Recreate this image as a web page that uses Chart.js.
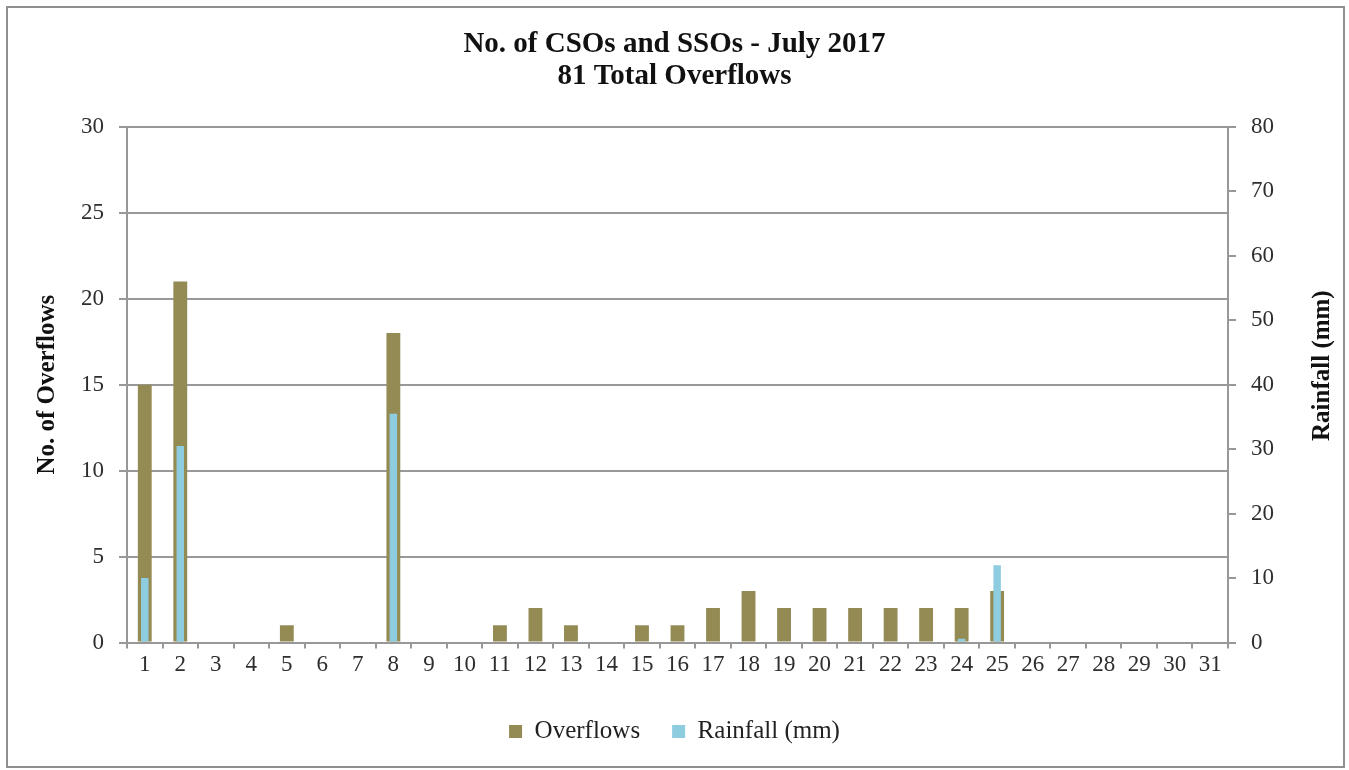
<!DOCTYPE html>
<html>
<head>
<meta charset="utf-8">
<title>No. of CSOs and SSOs - July 2017</title>
<script src="https://cdn.jsdelivr.net/npm/chart.js@4.4.1/dist/chart.umd.min.js"></script>
<style>
  html, body { margin: 0; padding: 0; background: #fff; }
  #wrap { position: relative; width: 1349px; height: 770px; }
</style>
</head>
<body>
<div id="wrap"><canvas id="c" width="1349" height="770"></canvas></div>
<script>
// Days of July 2017
const days = ['1','2','3','4','5','6','7','8','9','10','11','12','13','14','15','16',
              '17','18','19','20','21','22','23','24','25','26','27','28','29','30','31'];

// Daily number of overflow events (CSOs + SSOs)
const overflows = [15, 21, 0, 0, 1, 0, 0, 18, 0, 0, 1, 2, 1, 0, 1, 1,
                   2, 3, 2, 2, 2, 2, 2, 2, 3, 0, 0, 0, 0, 0, 0];

// Daily rainfall, mm
const rainfall = [10, 30.5, 0, 0, 0, 0, 0, 35.5, 0, 0, 0, 0, 0, 0, 0, 0,
                  0, 0, 0, 0, 0, 0, 0, 0.6, 12, 0, 0, 0, 0, 0, 0];

const titleLines = ['No. of CSOs and SSOs - July 2017', '81 Total Overflows'];
const leftAxisTitle = 'No. of Overflows';
const rightAxisTitle = 'Rainfall (mm)';

const SERIF = '"Liberation Serif", "Times New Roman", Times, serif';
const GRID = '#989898';

// White background and the grey frame around the whole chart
const framePlugin = {
  id: 'frame',
  beforeDraw(chart) {
    const { ctx, width, height } = chart;
    ctx.save();
    ctx.fillStyle = '#fff';
    ctx.fillRect(0, 0, width, height);
    ctx.strokeStyle = '#8f8f8f';
    ctx.lineWidth = 2;
    ctx.strokeRect(7, 7, width - 12, height - 10);
    ctx.restore();
  }
};

// Secondary axis title, reading bottom to top
const rightTitlePlugin = {
  id: 'rightTitle',
  afterDraw(chart) {
    const { ctx, chartArea } = chart;
    const s = chart.scales.y1;
    ctx.save();
    ctx.translate(s.right - 6, (chartArea.top + chartArea.bottom) / 2 - 19);
    ctx.rotate(-Math.PI / 2);
    ctx.font = 'bold 25px ' + SERIF;
    ctx.fillStyle = '#111';
    ctx.textAlign = 'center';
    ctx.textBaseline = 'middle';
    ctx.fillText(rightAxisTitle, 0, 0);
    ctx.restore();
  }
};

new Chart(document.getElementById('c'), {
  type: 'bar',
  data: {
    labels: days,
    datasets: [
      {
        label: 'Overflows',
        data: overflows,
        yAxisID: 'y',
        backgroundColor: '#948a54',
        borderWidth: 0,
        barPercentage: 0.39,
        categoryPercentage: 1,
        grouped: false,
        order: 1
      },
      {
        label: 'Rainfall (mm)',
        data: rainfall,
        yAxisID: 'y1',
        backgroundColor: '#8ecde0',
        borderWidth: 0,
        barPercentage: 0.21,
        categoryPercentage: 1,
        grouped: false,
        order: 0
      }
    ]
  },
  options: {
    responsive: false,
    animation: false,
    layout: { padding: { left: 20, right: 20, top: 0, bottom: 16 } },
    plugins: {
      tooltip: { enabled: false },
      title: {
        display: true,
        text: titleLines,
        color: '#111',
        font: { family: SERIF, size: 29, weight: 'bold', lineHeight: 1.1 },
        padding: { top: 29, bottom: 34 }
      },
      legend: {
        position: 'bottom',
        labels: {
          color: '#222',
          font: { family: SERIF, size: 25 },
          boxWidth: 13,
          boxHeight: 13,
          padding: 32,
          sort: (a, b) => a.datasetIndex - b.datasetIndex
        }
      }
    },
    scales: {
      x: {
        offset: true,
        grid: {
          display: true,
          offset: true,
          drawOnChartArea: false,
          drawTicks: true,
          tickLength: 6,
          color: GRID,
          lineWidth: 2
        },
        border: { display: true, color: GRID, width: 2 },
        ticks: {
          color: '#2e2e2e',
          font: { family: SERIF, size: 23 },
          padding: 3,
          maxRotation: 0,
          autoSkip: false
        },
        afterFit(scale) { scale.height = 44.5; }
      },
      y: {
        position: 'left',
        min: 0,
        max: 30,
        ticks: {
          stepSize: 5,
          color: '#2e2e2e',
          font: { family: SERIF, size: 23 },
          padding: 15
        },
        grid: {
          color: GRID,
          lineWidth: 2,
          drawTicks: true,
          tickLength: 8
        },
        border: { display: true, color: GRID, width: 2 },
        title: {
          display: true,
          text: leftAxisTitle,
          color: '#111',
          font: { family: SERIF, size: 25, weight: 'bold' },
          padding: { top: 13, bottom: 0 }
        },
        afterFit(scale) { scale.width = 107; }
      },
      y1: {
        position: 'right',
        min: 0,
        max: 80,
        ticks: {
          stepSize: 10,
          color: '#2e2e2e',
          font: { family: SERIF, size: 23 },
          padding: 15
        },
        grid: {
          drawOnChartArea: false,
          drawTicks: true,
          tickLength: 8,
          color: GRID,
          lineWidth: 2
        },
        border: { display: true, color: GRID, width: 2 },
        afterFit(scale) { scale.width = 101; }
      }
    }
  },
  plugins: [framePlugin, rightTitlePlugin]
});
</script>
</body>
</html>
